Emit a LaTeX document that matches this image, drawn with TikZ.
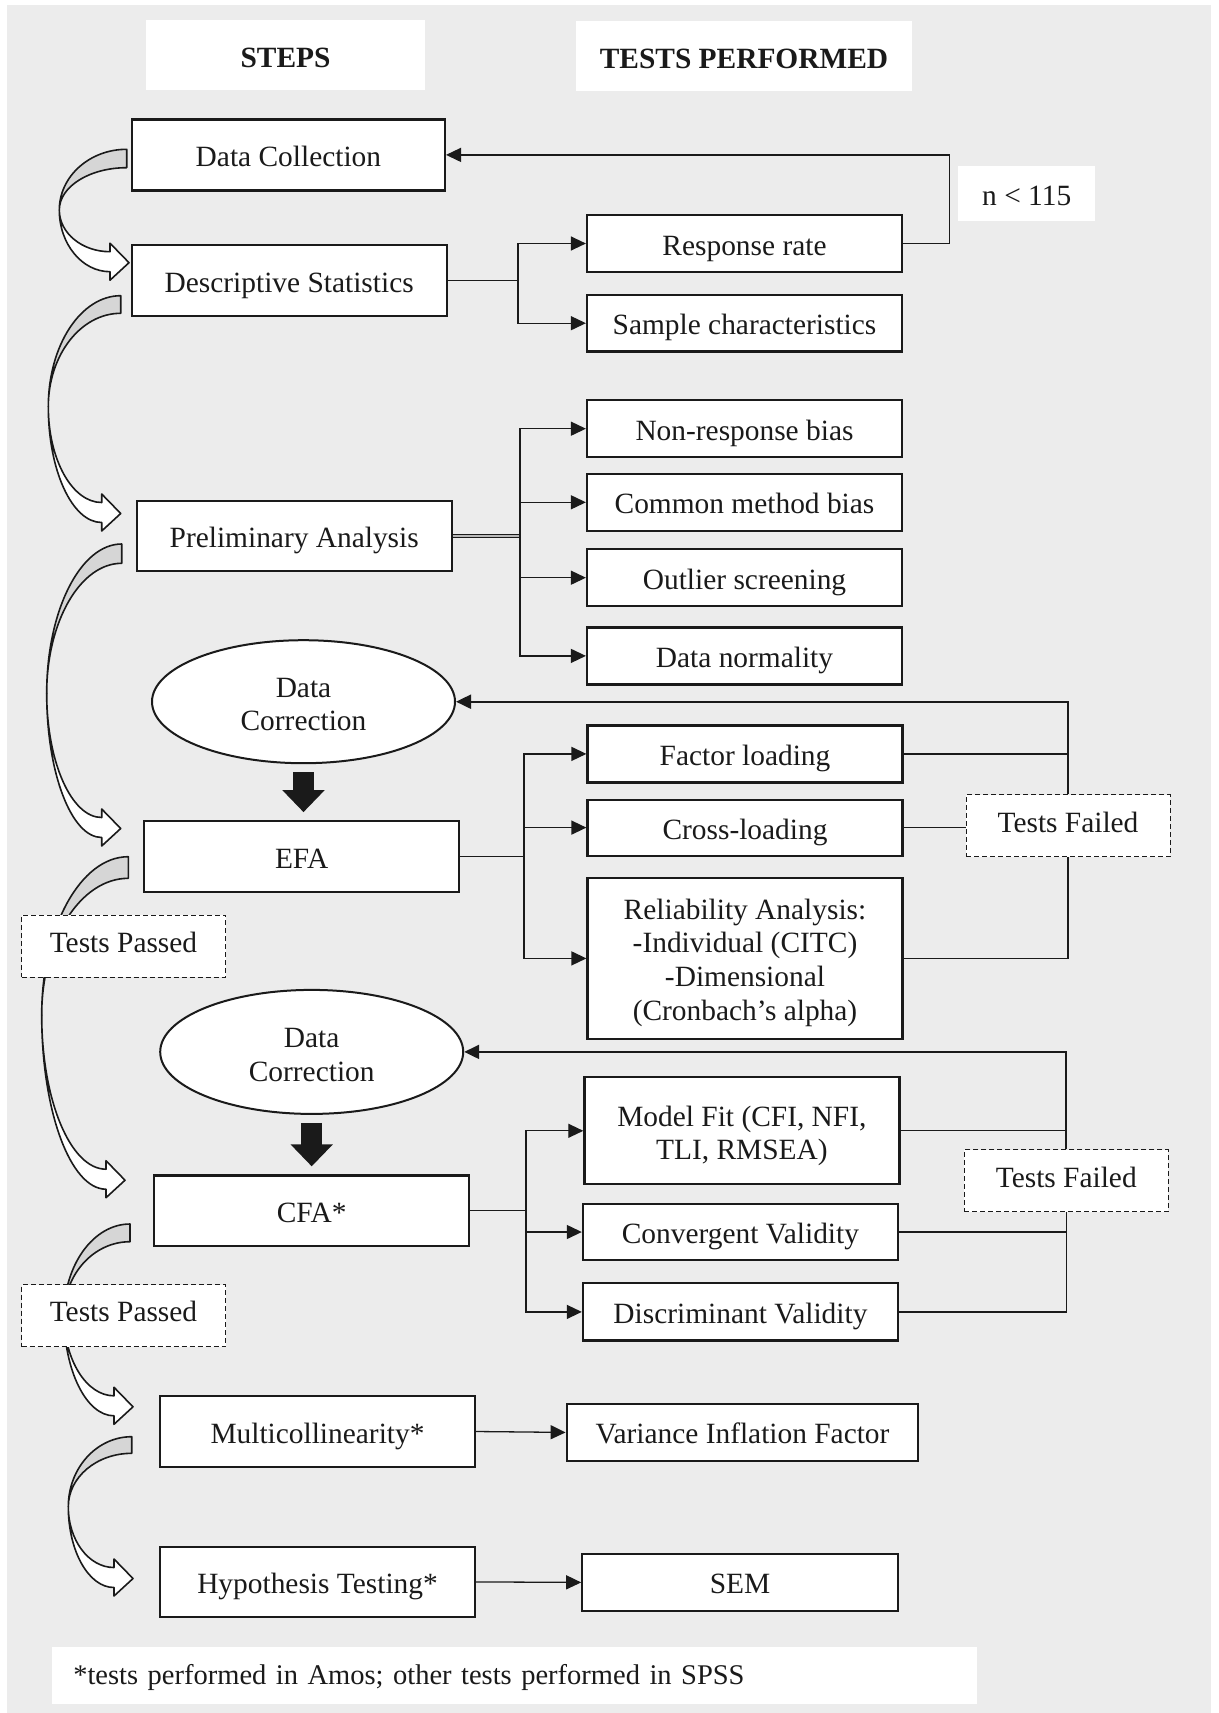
\documentclass[tikz,border=0pt]{standalone}
\usepackage{fontspec}
\setmainfont{Liberation Serif}
\usetikzlibrary{shapes.geometric,arrows.meta}

\definecolor{bgpanel}{HTML}{ECECEC}
\definecolor{bandback}{HTML}{D6D6D6}
\definecolor{ink}{HTML}{1A1A1A}

% invisible strut that lowers a multi-line label inside its shape
\newcommand{\firstline}[1]{\rule{0pt}{#1}}

% Curved block arrow: a shaded back band that sweeps left from the box edge,
% then a white front band ending in an arrow head pointing right.
% #1 start x, #2/#3 top/bottom of band start, #4/#5 leftmost point,
% #6 x of head base, #7 y of head centre
\newcommand{\bendarrow}[7]{%
  \filldraw[fill=bandback, draw=ink, line width=1.6pt, line join=round]
    (#1,#2) .. controls ({#1-0.552*(#1-#4)},#2) and (#4,{#5-0.552*(#5-#2)}) .. (#4,#5)
    .. controls (#4,{#5-0.552*(#5-#3)}) and ({#1-0.552*(#1-#4)},#3) .. (#1,#3) -- cycle;
  \filldraw[fill=white, draw=ink, line width=1.6pt, line join=round]
    (#4,#5) .. controls (#4,{#5+0.552*(#7+10-#5)}) and ({#6-0.552*(#6-#4)},{#7+10}) .. (#6,{#7+10})
    -- (#6,{#7+18.5}) -- ({#6+19},{#7+1}) -- (#6,{#7-18.5}) -- (#6,{#7-10})
    .. controls ({#6-0.552*(#6-#4)},{#7-10}) and (#4,{#5+0.552*(#7-10-#5)}) .. (#4,#5) -- cycle;
}

\tikzset{
  every node/.style={font=\fontsize{29.4}{33.8}\selectfont, text=ink},
  oneline/.style={text height=23pt, text depth=0pt},
  stepbox/.style={draw=ink, line width=2.2pt, fill=white, inner sep=0pt,
    minimum width=315pt, minimum height=70.5pt, align=center, oneline},
  testbox/.style={draw=ink, line width=2.2pt, fill=white, inner sep=0pt,
    minimum width=315pt, minimum height=57pt, align=center, oneline},
  multibox/.style={text height=, text depth=},
  headbox/.style={fill=white, inner sep=0pt, minimum height=70pt,
    text height=24pt, text depth=0pt},
  dashbox/.style={draw=ink, line width=1pt, dash pattern=on 5pt off 3pt, fill=white,
    inner sep=0pt, minimum width=204pt, minimum height=62pt,
    text height=19.4pt, text depth=6.5pt},
  oval/.style={ellipse, draw=ink, line width=2pt, fill=white, inner sep=0pt,
    minimum width=303pt, minimum height=123pt, align=center},
  link/.style={draw=ink, line width=1.3pt},
  arr/.style={link, -{Triangle[length=15pt,width=14pt]}},
  back/.style={draw=ink, line width=2pt, -{Triangle[length=15pt,width=14pt]}},
  blockdown/.style={draw=ink, line width=21pt, shorten <=8pt, shorten >=8pt,
    -{Triangle[length=22pt,width=41pt]}},
}

\begin{document}
\begin{tikzpicture}[x=1pt, y=-1pt]
  \useasboundingbox (0,0) rectangle (1218,1713);
  \fill[bgpanel] (7,5) rectangle (1211,1713);

  % bending arrows between the steps
  \bendarrow{126.7}{149.3}{167.7}{59.3}{210}{110}{261.7}
  \bendarrow{120.7}{295.7}{313.3}{48.3}{406.7}{101.7}{512.5}
  \bendarrow{121.7}{544}{563.3}{46.7}{693.3}{101.7}{827.5}
  \bendarrow{128.3}{856.7}{878.3}{41.7}{1015}{106}{1179.2}
  \bendarrow{130}{1224}{1241.7}{64}{1315}{114}{1405.8}
  \bendarrow{131.7}{1436.7}{1453.3}{68.3}{1506.7}{114}{1577.5}

  % column headings
  \node[headbox, minimum width=279pt] (steps) at (285.5,55.4) {\textbf{STEPS}};
  \node[headbox, minimum width=336pt] (tests) at (744,56.4) {\textbf{TESTS PERFORMED}};

  % steps
  \node[stepbox, minimum width=313pt, minimum height=71pt] (dc) at (288.4,154.9) {Data Collection};
  \node[stepbox] (ds) at (289.2,280.5) {Descriptive Statistics};
  \node[stepbox] (pa) at (294.2,536) {Preliminary Analysis};
  \node[oval] (dc1) at (303.5,701.7) {\firstline{24.7pt}Data\\Correction};
  \node[stepbox] (efa) at (301.7,856.5) {EFA};
  \node[dashbox] (tp1) at (123.5,946) {Tests Passed};
  \node[oval, minimum height=124pt] (dc2) at (311.7,1051.9) {\firstline{25pt}Data\\Correction};
  \node[stepbox] (cfa) at (311.7,1210.7) {CFA*};
  \node[dashbox] (tp2) at (123.5,1315.5) {Tests Passed};
  \node[stepbox] (mc) at (317.5,1431.5) {Multicollinearity*};
  \node[stepbox] (ht) at (317.5,1581.9) {Hypothesis Testing*};

  % tests
  \node[testbox] (rr) at (744.5,243.5) {Response rate};
  \node[testbox, minimum height=56.4pt] (sc) at (744.5,323.2) {Sample characteristics};
  \node[fill=white, inner sep=0pt, minimum width=136.7pt, minimum height=54.7pt,
    text height=24pt, text depth=0pt] (nlt) at (1026.7,193.3) {n < 115};
  \node[testbox] (nrb) at (744.5,428.7) {Non-response bias};
  \node[testbox] (cmb) at (744.5,502.3) {Common method bias};
  \node[testbox] (os) at (744.5,577.7) {Outlier screening};
  \node[testbox] (dn) at (744.5,655.9) {Data normality};
  \node[testbox] (fl) at (745,753.9) {Factor loading};
  \node[testbox, minimum height=56pt] (cl) at (745,827.6) {Cross-loading};
  \node[testbox, multibox, minimum height=160.4pt] (ra) at (745,958.4)
    {\firstline{28.9pt}Reliability Analysis:\\-Individual (CITC)\\-Dimensional\\(Cronbach’s alpha)};
  \node[dashbox] (tf1) at (1068,825.9) {Tests Failed};
  \node[testbox, multibox, minimum height=107pt] (mf) at (741.9,1130.8)
    {\firstline{30.5pt}Model Fit (CFI, NFI,\\TLI, RMSEA)};
  \node[testbox, minimum height=56.3pt] (cv) at (740.4,1232) {Convergent Validity};
  \node[testbox, minimum height=57.3pt] (dv) at (740.4,1311.9) {Discriminant Validity};
  \node[dashbox] (tf2) at (1066.3,1180.9) {Tests Failed};
  \node[testbox, minimum width=351.6pt, minimum height=56.7pt] (vif) at (742.5,1432.4) {Variance Inflation Factor};
  \node[testbox, minimum width=315.4pt, minimum height=56.7pt] (sem) at (740,1582.4) {SEM};

  % footnote
  \node[fill=white, inner xsep=21.6pt, inner ysep=0pt, text width=881.8pt, align=left,
    minimum height=57pt, font=\fontsize{28.5}{33}\selectfont, text height=18.2pt, text depth=0pt]
    (foot) at (514.2,1675.5) {*tests performed in Amos; other tests performed in SPSS};

  % branch points
  \coordinate (j1) at (517.9,280.5);
  \coordinate (j2) at (519.9,536);
  \coordinate (j3) at (524,856.5);
  \coordinate (j4) at (526,1210.7);
  \coordinate (k1) at (949.3,154.9);

  % descriptive statistics
  \draw[link] (ds.east) -- (j1);
  \draw[arr] (j1) |- (rr.west);
  \draw[arr] (j1) |- (sc.west);
  \draw[arr] (rr.east) -| (k1) -- (dc.east);

  % preliminary analysis
  \draw[draw=ink, line width=1pt, double=gray!55, double distance=1.5pt] (pa.east) -- (j2);
  \draw[arr] (j2) |- (nrb.west);
  \draw[arr] (j2) |- (cmb.west);
  \draw[arr] (j2) |- (os.west);
  \draw[arr] (j2) |- (dn.west);

  % EFA
  \draw[blockdown] (dc1.south) -- (dc1.south |- efa.north);
  \draw[link, line width=1.8pt] (efa.east) -- (j3);
  \draw[arr] (j3) |- (fl.west);
  \draw[arr] (j3) |- (cl.west);
  \draw[arr] (j3) |- (ra.west);
  \draw[link] (fl.east) -- (fl.east -| tf1.north);
  \draw[link] (cl.east) -- (cl.east -| tf1.west);
  \draw[link] (ra.east) -| (tf1.south);
  \draw[back] (tf1.north) -- (tf1.north |- dc1.east) -- (dc1.east);

  % CFA
  \draw[blockdown] (dc2.south) -- (dc2.south |- cfa.north);
  \draw[link] (cfa.east) -- (j4);
  \draw[arr] (j4) |- (mf.west);
  \draw[arr] (j4) |- (cv.west);
  \draw[arr] (j4) |- (dv.west);
  \draw[link] (mf.east) -- (mf.east -| tf2.north);
  \draw[link] (cv.east) -- (cv.east -| tf2.south);
  \draw[link] (dv.east) -| (tf2.south);
  \draw[back] (tf2.north) -- (tf2.north |- dc2.east) -- (dc2.east);

  % last two steps
  \draw[arr] (mc.east) -- (vif.west);
  \draw[arr] (ht.east) -- (sem.west);
\end{tikzpicture}
\end{document}
